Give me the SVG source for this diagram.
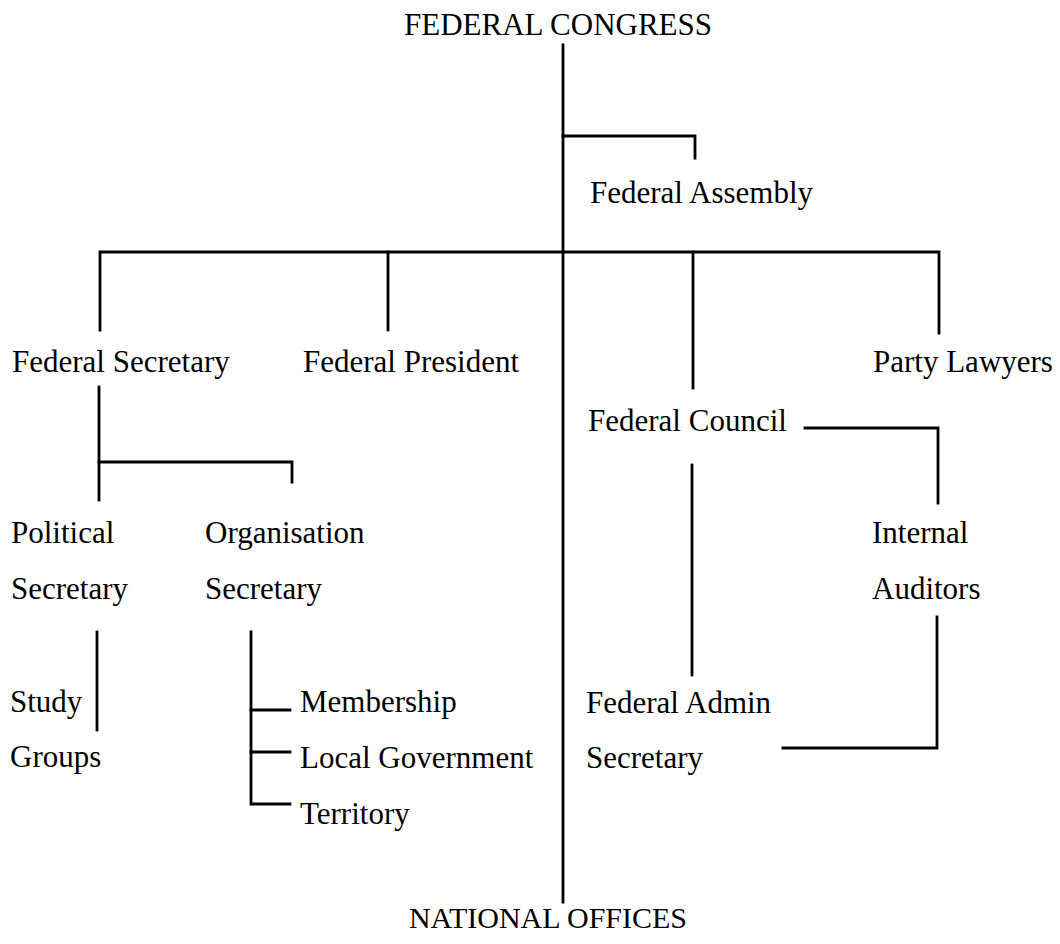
<svg xmlns="http://www.w3.org/2000/svg" width="1060" height="944" viewBox="0 0 1060 944">
<style>
text { font-family: "Liberation Serif", "Times New Roman", serif; font-size: 31px; fill: #000; }
.mid { text-anchor: middle; }
.ln { fill: none; stroke: #000; stroke-width: 2.8; stroke-linecap: square; stroke-linejoin: miter; }
</style>
<rect width="1060" height="944" fill="#fff"/>
<g id="connectors">
<path class="ln" d="M563 45 V902"/>
<path class="ln" d="M563 136 H695 V158"/>
<path class="ln" d="M100 330 V252 H939 V333"/>
<path class="ln" d="M388 252 V330"/>
<path class="ln" d="M693 252 V388"/>
<path class="ln" d="M99 387 V500"/>
<path class="ln" d="M99 462 H292 V482"/>
<path class="ln" d="M97 632 V730"/>
<path class="ln" d="M251 632 V804 H290"/>
<path class="ln" d="M251 710 H290"/>
<path class="ln" d="M251 752 H290"/>
<path class="ln" d="M692 465 V675"/>
<path class="ln" d="M805 428 H938 V503"/>
<path class="ln" d="M937 617 V748 H783"/>
</g>
<g id="federal-congress"><text class="mid" x="558" y="35">FEDERAL CONGRESS</text></g>
<g id="federal-assembly"><text x="590" y="203">Federal Assembly</text></g>
<g id="federal-secretary"><text x="12" y="372">Federal Secretary</text></g>
<g id="federal-president"><text x="303" y="372">Federal President</text></g>
<g id="party-lawyers"><text x="873" y="372">Party Lawyers</text></g>
<g id="federal-council"><text x="588" y="431">Federal Council</text></g>
<g id="political-secretary"><text x="11" y="543">Political</text><text x="11" y="599">Secretary</text></g>
<g id="organisation-secretary"><text x="205" y="543">Organisation</text><text x="205" y="599">Secretary</text></g>
<g id="internal-auditors"><text x="872" y="543">Internal</text><text x="872" y="599">Auditors</text></g>
<g id="study-groups"><text x="10" y="712">Study</text><text x="10" y="767">Groups</text></g>
<g id="membership"><text x="300" y="712">Membership</text></g>
<g id="local-government"><text x="300" y="768">Local Government</text></g>
<g id="territory"><text x="300" y="824">Territory</text></g>
<g id="federal-admin-secretary"><text x="586" y="713">Federal Admin</text><text x="586" y="768">Secretary</text></g>
<g id="national-offices"><text class="mid" x="548" y="928" style="font-size:30px">NATIONAL OFFICES</text></g>
</svg>
